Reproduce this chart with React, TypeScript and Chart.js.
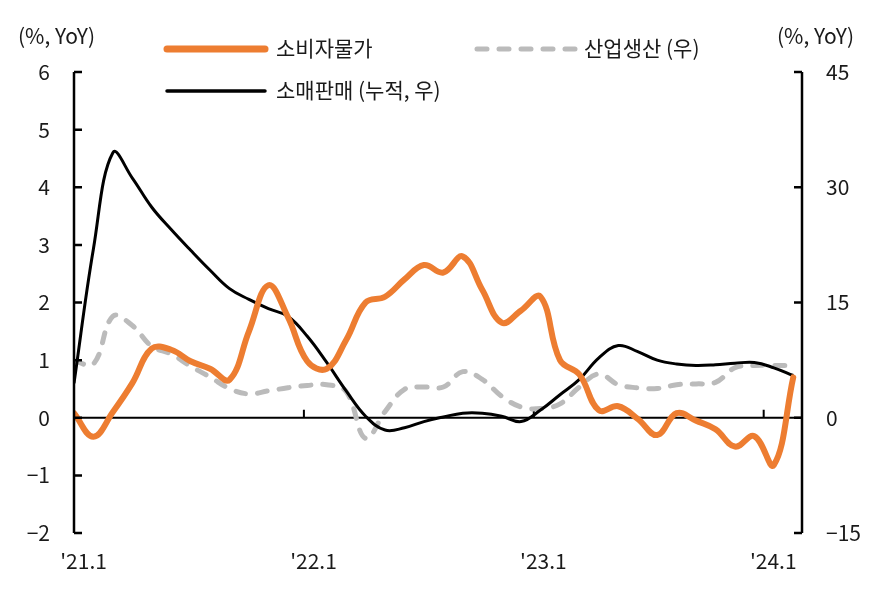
import React, { useEffect, useRef } from "react";
import { Chart, registerables } from "chart.js";

Chart.register(...registerables);

// Monthly observations, '21.1 .. '24.2
const months = [
  "21.1", "21.2", "21.3", "21.4", "21.5", "21.6", "21.7", "21.8", "21.9", "21.10", "21.11", "21.12",
  "22.1", "22.2", "22.3", "22.4", "22.5", "22.6", "22.7", "22.8", "22.9", "22.10", "22.11", "22.12",
  "23.1", "23.2", "23.3", "23.4", "23.5", "23.6", "23.7", "23.8", "23.9", "23.10", "23.11", "23.12",
  "24.1", "24.2",
];

// 소비자물가 (left axis, %)
const cpi = [
  0.08, -0.33, 0.1, 0.6, 1.2, 1.18, 0.98, 0.85, 0.66, 1.5, 2.3, 1.75,
  0.98, 0.85, 1.35, 2.0, 2.1, 2.4, 2.65, 2.52, 2.8, 2.22, 1.65, 1.86,
  2.1, 1.0, 0.75, 0.13, 0.2, -0.02, -0.3, 0.08, -0.05, -0.2, -0.5, -0.32,
  -0.82, 0.7,
];

// 소매판매 (누적, 우) (right axis, %)
const retail = [
  4.5, 22, 34.5, 31.2, 27.4, 24.5, 21.8, 19.2, 16.8, 15.4, 14.2, 13.2,
  10.6, 7.2, 3.5, 0.2, -1.6, -1.3, -0.5, 0.1, 0.6, 0.6, 0.2, -0.5,
  1.0, 3.0, 5.0, 7.8, 9.4, 8.6, 7.5, 7.0, 6.8, 6.9, 7.1, 7.2,
  6.5, 5.5,
];

// 산업생산 (우) (right axis, %)
const industrial = [
  7.4, 7.0, 13.2, 12.0, 9.3, 8.3, 6.7, 5.3, 3.8, 3.1, 3.5, 3.9,
  4.2, 4.3, 3.4, -2.7, 0.8, 3.7, 4.0, 4.0, 6.0, 5.0, 2.8, 1.4,
  1.2, 1.8, 4.0, 5.7, 4.3, 3.9, 3.8, 4.3, 4.4, 4.6, 6.5, 6.8,
  6.8, 6.8,
];

const xLabelMonths = ["21.1", "22.1", "23.1", "24.1"];
const xLabels = ["'21.1", "'22.1", "'23.1", "'24.1"];
const leftTicks = [-2, -1, 0, 1, 2, 3, 4, 5, 6];
const rightTicks = [-15, 0, 15, 30, 45];

const seriesNames = ["소비자물가", "소매판매 (누적, 우)", "산업생산 (우)"];
const unitLabel = "(%, YoY)";

const FONT = "'Noto Sans CJK KR', 'Noto Sans', sans-serif";
const FONT_SIZE = 21;
const ORANGE = "#ED7D31";
const GRAY = "#BBBBBB";
const BLACK = "#000000";
const TEXT = "#1a1a1a";

export default function App() {
  const ref = useRef<HTMLCanvasElement | null>(null);

  useEffect(() => {
    const canvas = ref.current;
    if (!canvas) return;
    const pts = (arr: number[]) => arr.map((v, i) => ({ x: i, y: v }));
    const labelPositions = xLabelMonths.map((m) => months.indexOf(m) + 0.5);
    const boundaryPositions = xLabelMonths.map((m) => months.indexOf(m));

    const overlay = {
      id: "overlay",
      beforeDatasetsDraw(chart: any) {
        const { ctx, chartArea, scales } = chart;
        const y0 = scales.y.getPixelForValue(0);
        ctx.save();
        ctx.strokeStyle = BLACK;
        ctx.lineWidth = 2;
        ctx.beginPath();
        ctx.moveTo(chartArea.left, y0);
        ctx.lineTo(chartArea.right, y0);
        boundaryPositions.forEach((b) => {
          if (b <= 0) return;
          const px = scales.x.getPixelForValue(b);
          ctx.moveTo(px, y0);
          ctx.lineTo(px, y0 - 8);
        });
        ctx.stroke();
        ctx.restore();
      },
      afterDatasetsDraw(chart: any) {
        const { ctx, chartArea, scales } = chart;
        ctx.save();
        ctx.strokeStyle = BLACK;
        ctx.lineWidth = 2.5;
        ctx.beginPath();
        ctx.moveTo(chartArea.left, chartArea.top);
        ctx.lineTo(chartArea.left, chartArea.bottom);
        ctx.moveTo(chartArea.right, chartArea.top);
        ctx.lineTo(chartArea.right, chartArea.bottom);
        leftTicks.forEach((t) => {
          const py = scales.y.getPixelForValue(t);
          ctx.moveTo(chartArea.left, py);
          ctx.lineTo(chartArea.left + 8, py);
        });
        rightTicks.forEach((t) => {
          const py = scales.y1.getPixelForValue(t);
          ctx.moveTo(chartArea.right, py);
          ctx.lineTo(chartArea.right - 8, py);
        });
        ctx.stroke();
        ctx.restore();
      },
      afterDraw(chart: any) {
        const { ctx } = chart;
        ctx.save();
        ctx.font = `${FONT_SIZE}px ${FONT}`;
        ctx.fillStyle = TEXT;
        ctx.textBaseline = "middle";
        // unit labels
        ctx.textAlign = "left";
        ctx.fillText(unitLabel, 18, 36);
        ctx.textAlign = "right";
        ctx.fillText(unitLabel, 854, 36);
        // legend
        ctx.lineCap = "round";
        ctx.strokeStyle = ORANGE;
        ctx.lineWidth = 7;
        ctx.beginPath();
        ctx.moveTo(167, 49);
        ctx.lineTo(265, 49);
        ctx.stroke();
        ctx.strokeStyle = GRAY;
        ctx.lineWidth = 5;
        ctx.setLineDash([10, 12]);
        ctx.beginPath();
        ctx.moveTo(477, 49);
        ctx.lineTo(575, 49);
        ctx.stroke();
        ctx.setLineDash([]);
        ctx.strokeStyle = BLACK;
        ctx.lineWidth = 3.5;
        ctx.beginPath();
        ctx.moveTo(167, 91);
        ctx.lineTo(265, 91);
        ctx.stroke();
        ctx.textAlign = "left";
        ctx.fillText(seriesNames[0], 276, 48);
        ctx.fillText(seriesNames[2], 584, 48);
        ctx.fillText(seriesNames[1], 276, 90);
        ctx.restore();
      },
    };

    const tickFont = { family: FONT, size: FONT_SIZE };

    const chart = new Chart(canvas, {
      type: "line",
      data: {
        datasets: [
          {
            label: seriesNames[0],
            data: pts(cpi),
            borderColor: ORANGE,
            borderWidth: 6,
            tension: 0.4,
            pointRadius: 0,
            xAxisID: "x2",
            yAxisID: "y",
            borderCapStyle: "round",
            borderJoinStyle: "round",
          },
          {
            label: seriesNames[1],
            data: pts(retail),
            borderColor: BLACK,
            borderWidth: 3,
            tension: 0.4,
            pointRadius: 0,
            xAxisID: "x2",
            yAxisID: "y1",
            borderJoinStyle: "round",
          },
          {
            label: seriesNames[2],
            data: pts(industrial),
            borderColor: GRAY,
            borderWidth: 5,
            borderDash: [10, 12],
            borderCapStyle: "round",
            tension: 0.4,
            pointRadius: 0,
            xAxisID: "x2",
            yAxisID: "y1",
          },
        ],
      },
      options: {
        animation: false,
        responsive: false,
        maintainAspectRatio: false,
        layout: { padding: { top: 72, left: 0, right: 0, bottom: 0 } },
        plugins: { legend: { display: false }, tooltip: { enabled: false } },
        scales: {
          x: {
            type: "linear",
            position: "bottom",
            min: 0,
            max: months.length,
            grid: { display: false, drawTicks: false },
            border: { display: false },
            afterBuildTicks: (scale: any) => {
              scale.ticks = labelPositions.map((v) => ({ value: v }));
            },
            afterFit: (scale: any) => {
              scale.height = 75;
            },
            ticks: {
              autoSkip: false,
              maxRotation: 0,
              minRotation: 0,
              padding: 15,
              color: TEXT,
              font: tickFont,
              callback: (v: any) => {
                const idx = labelPositions.indexOf(Number(v));
                return idx >= 0 ? xLabels[idx] : "";
              },
            },
          },
          x2: {
            type: "linear",
            display: false,
            min: 0,
            max: months.length - 0.55,
          },
          y: {
            position: "left",
            min: -2,
            max: 6,
            grid: { display: false, drawTicks: false },
            border: { display: false },
            afterFit: (scale: any) => {
              scale.width = 74;
            },
            ticks: {
              stepSize: 1,
              padding: 24,
              color: TEXT,
              font: tickFont,
              callback: (v: any) => String(v).replace("-", "\u2212"),
            },
          },
          y1: {
            position: "right",
            min: -15,
            max: 45,
            grid: { display: false, drawTicks: false },
            border: { display: false },
            afterFit: (scale: any) => {
              scale.width = 72;
            },
            ticks: {
              stepSize: 15,
              padding: 24,
              color: TEXT,
              font: tickFont,
              callback: (v: any) => String(v).replace("-", "\u2212"),
            },
          },
        },
      },
      plugins: [overlay],
    } as any);

    return () => chart.destroy();
  }, []);

  return (
    <div style={{ position: "fixed", left: 0, top: 0, width: 874, height: 608, background: "#fff" }}>
      <canvas ref={ref} width={874} height={608} style={{ width: 874, height: 608, display: "block" }} />
    </div>
  );
}
